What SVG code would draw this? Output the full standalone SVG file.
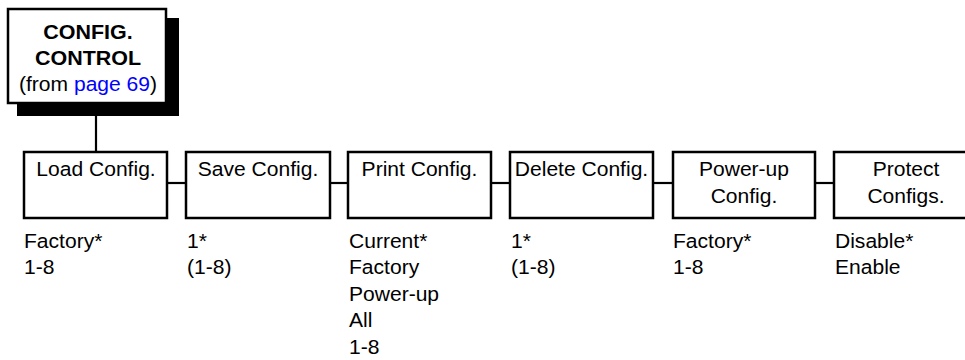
<svg xmlns="http://www.w3.org/2000/svg" width="965" height="360" viewBox="0 0 965 360">
<style>
  .box { fill: #ffffff; stroke: #000000; stroke-width: 2.5; }
  .shadow { fill: #000000; }
  .conn { stroke: #000000; stroke-width: 2.2; fill: none; }
  text { font-family: "Liberation Sans", Arial, Helvetica, sans-serif; font-size: 19.5px; fill: #000000; }
  .c { text-anchor: middle; }
  .b { font-weight: bold; }
  .link { fill: #0000ff; }
</style>
<rect width="965" height="360" fill="#ffffff"/>
<g id="connectors">
  <line class="conn" x1="96" y1="115" x2="96" y2="152"/>
  <line class="conn" x1="167" y1="183" x2="186" y2="183"/>
  <line class="conn" x1="330" y1="183" x2="348" y2="183"/>
  <line class="conn" x1="491" y1="183" x2="510" y2="183"/>
  <line class="conn" x1="653" y1="183" x2="673" y2="183"/>
  <line class="conn" x1="815" y1="183" x2="834" y2="183"/>
</g>
<g id="config-control">
  <rect class="shadow" x="17" y="18" width="162" height="98"/>
  <rect class="box" x="8" y="9" width="158" height="94"/>
  <text class="c b" transform="translate(88 39) scale(1.1 1)">CONFIG.</text>
  <text class="c b" transform="translate(88 64.5) scale(1.1 1)">CONTROL</text>
  <text class="c" transform="translate(88 90.5) scale(1.08 1)">(from <tspan class="link">page 69</tspan>)</text>
</g>
<g id="load-config">
  <rect class="box" x="24" y="152" width="143" height="66"/>
  <text class="c" transform="translate(96 176) scale(1.08 1)">Load Config.</text>
  <text transform="translate(24 248) scale(1.08 1)"><tspan x="0">Factory*</tspan><tspan x="0" dy="26.3">1-8</tspan></text>
</g>
<g id="save-config">
  <rect class="box" x="186" y="152" width="144" height="66"/>
  <text class="c" transform="translate(258 176) scale(1.08 1)">Save Config.</text>
  <text transform="translate(187 248) scale(1.08 1)"><tspan x="0">1*</tspan><tspan x="0" dy="26.3">(1-8)</tspan></text>
</g>
<g id="print-config">
  <rect class="box" x="348" y="152" width="143" height="66"/>
  <text class="c" transform="translate(419.5 176) scale(1.08 1)">Print Config.</text>
  <text transform="translate(349 248) scale(1.08 1)"><tspan x="0">Current*</tspan><tspan x="0" dy="26.5">Factory</tspan><tspan x="0" dy="26.5">Power-up</tspan><tspan x="0" dy="26.5">All</tspan><tspan x="0" dy="26.5">1-8</tspan></text>
</g>
<g id="delete-config">
  <rect class="box" x="510" y="152" width="143" height="66"/>
  <text class="c" transform="translate(581.5 176) scale(1.08 1)">Delete Config.</text>
  <text transform="translate(511 248) scale(1.08 1)"><tspan x="0">1*</tspan><tspan x="0" dy="26.3">(1-8)</tspan></text>
</g>
<g id="power-up-config">
  <rect class="box" x="673" y="152" width="142" height="66"/>
  <text class="c" transform="translate(744 176) scale(1.08 1)"><tspan x="0">Power-up</tspan><tspan x="0" dy="27">Config.</tspan></text>
  <text transform="translate(673 248) scale(1.08 1)"><tspan x="0">Factory*</tspan><tspan x="0" dy="26.3">1-8</tspan></text>
</g>
<g id="protect-configs">
  <rect class="box" x="834" y="152" width="143" height="66"/>
  <text class="c" transform="translate(906 176) scale(1.08 1)"><tspan x="0">Protect</tspan><tspan x="0" dy="27">Configs.</tspan></text>
  <text transform="translate(835 248) scale(1.08 1)"><tspan x="0">Disable*</tspan><tspan x="0" dy="26.3">Enable</tspan></text>
</g>
</svg>
